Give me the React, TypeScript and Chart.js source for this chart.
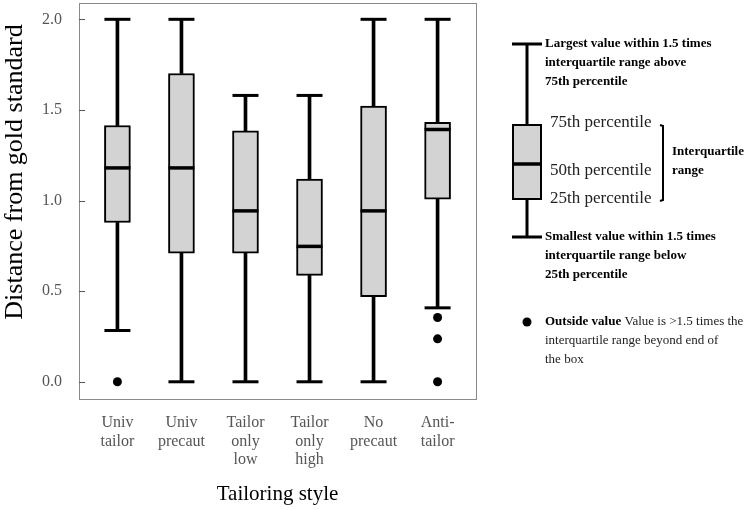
import React, { useEffect, useRef } from "react";
import { Chart, registerables } from "chart.js";

Chart.register(...registerables);

// ---------- data ----------
const CATEGORIES: string[][] = [
  ["Univ", "tailor"],
  ["Univ", "precaut"],
  ["Tailor", "only", "low"],
  ["Tailor", "only", "high"],
  ["No", "precaut"],
  ["Anti-", "tailor"],
];
const WHISKER_LOW = [0.283, 0.0, 0.0, 0.0, 0.0, 0.408];
const Q1 = [0.879, 0.71, 0.71, 0.587, 0.469, 1.007];
const MEDIAN = [1.18, 1.18, 0.943, 0.747, 0.943, 1.392];
const Q3 = [1.414, 1.701, 1.385, 1.118, 1.521, 1.431];
const WHISKER_HIGH = [2.0, 2.0, 1.58, 1.58, 2.0, 2.0];
const OUTLIERS: number[][] = [[0.0], [], [], [], [], [0.355, 0.237, 0.0]];
const Y_TICKS = [0.0, 0.5, 1.0, 1.5, 2.0];
const X_TITLE = "Tailoring style";
const Y_TITLE = "Distance from gold standard";

const SERIF = "'Liberation Serif', 'Times New Roman', serif";

const framePlugin = {
  id: "frame",
  afterDraw(chart: any) {
    const { ctx, chartArea, scales } = chart;
    ctx.save();
    ctx.strokeStyle = "#8a8a8a";
    ctx.lineWidth = 1;
    ctx.strokeRect(
      Math.round(chartArea.left) + 0.5,
      Math.round(chartArea.top) + 0.5,
      Math.round(chartArea.right - chartArea.left),
      Math.round(chartArea.bottom - chartArea.top)
    );
    // inside tick marks on y axis
    ctx.strokeStyle = "#555";
    for (const v of Y_TICKS) {
      const y = Math.round(scales.y.getPixelForValue(v)) + 0.5;
      ctx.beginPath();
      ctx.moveTo(chartArea.left, y);
      ctx.lineTo(chartArea.left + 6, y);
      ctx.stroke();
    }
    // y axis title
    ctx.translate(15, 172);
    ctx.rotate(-Math.PI / 2);
    ctx.textAlign = "center";
    ctx.textBaseline = "middle";
    ctx.fillStyle = "#000";
    ctx.font = `26px ${SERIF}`;
    ctx.fillText(Y_TITLE, 0, 0);
    ctx.restore();
  },
};

const keyPlugin = {
  id: "boxKey",
  afterDraw(chart: any) {
    const ctx: CanvasRenderingContext2D = chart.ctx;
    ctx.save();
    const cx = 527;
    const bl = 512;
    const br = 542;
    ctx.strokeStyle = "#000";
    ctx.lineCap = "butt";
    // whisker
    ctx.lineWidth = 3;
    ctx.beginPath();
    ctx.moveTo(cx, 44);
    ctx.lineTo(cx, 237);
    ctx.stroke();
    ctx.beginPath();
    ctx.moveTo(bl, 44);
    ctx.lineTo(br, 44);
    ctx.moveTo(bl, 237);
    ctx.lineTo(br, 237);
    ctx.stroke();
    // box
    ctx.fillStyle = "#d3d3d3";
    ctx.fillRect(bl, 124, br - bl, 76);
    ctx.lineWidth = 2;
    ctx.strokeRect(bl + 1, 125, br - bl - 2, 74);
    ctx.lineWidth = 3.5;
    ctx.beginPath();
    ctx.moveTo(bl, 164);
    ctx.lineTo(br, 164);
    ctx.stroke();
    // bracket
    ctx.lineWidth = 2;
    ctx.beginPath();
    ctx.moveTo(660, 125);
    ctx.lineTo(663, 126);
    ctx.lineTo(663, 200);
    ctx.lineTo(660, 201);
    ctx.stroke();
    // outlier dot
    ctx.fillStyle = "#000";
    ctx.beginPath();
    ctx.arc(cx, 322, 4.5, 0, Math.PI * 2);
    ctx.fill();

    ctx.textBaseline = "middle";
    ctx.textAlign = "left";
    ctx.fillStyle = "#000";
    const bold = `bold 13px ${SERIF}`;
    const norm13 = `13px ${SERIF}`;
    const big = `17px ${SERIF}`;
    ctx.font = bold;
    ctx.fillText("Largest value within 1.5 times", 545, 44);
    ctx.fillText("interquartile range above", 545, 63);
    ctx.fillText("75th percentile", 545, 82);
    ctx.fillText("Smallest value within 1.5 times", 545, 237);
    ctx.fillText("interquartile range below", 545, 256);
    ctx.fillText("25th percentile", 545, 275);
    ctx.fillText("Interquartile", 672, 152);
    ctx.fillText("range", 672, 171);
    ctx.font = big;
    ctx.fillStyle = "#222";
    ctx.fillText("75th percentile", 550, 123);
    ctx.fillText("50th percentile", 550, 171);
    ctx.fillText("25th percentile", 550, 199);
    ctx.fillStyle = "#000";
    ctx.font = bold;
    const ov = "Outside value ";
    ctx.fillText(ov, 545, 322);
    const w = ctx.measureText(ov).width;
    ctx.font = norm13;
    ctx.fillStyle = "#222";
    ctx.fillText("Value is >1.5 times the", 545 + w, 322);
    ctx.fillText("interquartile range beyond end of", 545, 341);
    ctx.fillText("the box", 545, 360);
    ctx.restore();
  },
};

export default function App() {
  const ref = useRef<HTMLCanvasElement>(null);

  useEffect(() => {
    const xs = CATEGORIES.map((_, i) => i + 1);
    const outlierPts: { x: number; y: number }[] = [];
    OUTLIERS.forEach((arr, i) => arr.forEach((v) => outlierPts.push({ x: i + 1, y: v })));

    const chart = new Chart(ref.current as HTMLCanvasElement, {
      type: "bar",
      data: {
        datasets: [
          {
            type: "bar",
            label: "lower whisker",
            data: xs.map((x, i) => ({ x, y: [WHISKER_LOW[i], Q1[i]] })),
            backgroundColor: "#000",
            borderWidth: 0,
            barThickness: 3,
            grouped: false,
            order: 6,
          } as any,
          {
            type: "bar",
            label: "upper whisker",
            data: xs.map((x, i) => ({ x, y: [Q3[i], WHISKER_HIGH[i]] })),
            backgroundColor: "#000",
            borderWidth: 0,
            barThickness: 3,
            grouped: false,
            order: 5,
          } as any,
          {
            type: "bar",
            label: "box",
            data: xs.map((x, i) => ({ x, y: [Q1[i], Q3[i]] })),
            backgroundColor: "#d3d3d3",
            borderColor: "#000",
            borderWidth: 2,
            borderSkipped: false,
            barThickness: 26,
            grouped: false,
            order: 4,
          } as any,
          {
            type: "scatter",
            label: "caps",
            data: [
              ...xs.map((x, i) => ({ x, y: WHISKER_HIGH[i] })),
              ...xs.map((x, i) => ({ x, y: WHISKER_LOW[i] })),
            ],
            pointStyle: "line",
            pointRadius: 13,
            borderWidth: 3,
            borderColor: "#000",
            backgroundColor: "#000",
            order: 3,
          } as any,
          {
            type: "scatter",
            label: "median",
            data: xs.map((x, i) => ({ x, y: MEDIAN[i] })),
            pointStyle: "line",
            pointRadius: 13,
            borderWidth: 3.5,
            borderColor: "#000",
            backgroundColor: "#000",
            order: 1,
          } as any,
          {
            type: "scatter",
            label: "outliers",
            data: outlierPts,
            pointStyle: "circle",
            pointRadius: 4.5,
            borderWidth: 0,
            backgroundColor: "#000",
            order: 2,
          } as any,
        ],
      },
      options: {
        responsive: false,
        animation: false,
        devicePixelRatio: 1,
        layout: { autoPadding: false, padding: { left: 0, top: 3, right: 274, bottom: 0 } },
        plugins: { legend: { display: false }, tooltip: { enabled: false } },
        scales: {
          x: {
            type: "linear",
            min: 0.4,
            max: 6.6,
            offset: false,
            grid: { display: false, drawTicks: false },
            border: { display: false },
            afterBuildTicks: (s: any) => {
              s.ticks = xs.map((v) => ({ value: v }));
            },
            afterFit: (s: any) => {
              s.height = 111;
              s.paddingLeft = 0;
              s.paddingRight = 0;
              s.paddingTop = 0;
              s.paddingBottom = 0;
            },
            ticks: {
              autoSkip: false,
              maxRotation: 0,
              padding: 15,
              color: "#555",
              font: { family: SERIF, size: 16, lineHeight: 1.15 },
              callback: (v: any) => CATEGORIES[Math.round(Number(v)) - 1] || "",
            },
            title: {
              display: true,
              text: X_TITLE,
              color: "#000",
              font: { family: SERIF, size: 21, lineHeight: 1.2 },
              padding: { top: 0, bottom: 3 },
            },
          } as any,
          y: {
            type: "linear",
            min: -0.095,
            max: 2.09,
            grid: { display: false, drawTicks: false },
            border: { display: false },
            afterBuildTicks: (s: any) => {
              s.ticks = Y_TICKS.map((v) => ({ value: v }));
            },
            afterFit: (s: any) => {
              s.width = 79;
              s.paddingLeft = 0;
              s.paddingRight = 0;
              s.paddingTop = 0;
              s.paddingBottom = 0;
            },
            ticks: {
              padding: 17,
              color: "#555",
              font: { family: SERIF, size: 16 },
              callback: (v: any) => Number(v).toFixed(1),
            },
          } as any,
        },
      },
      plugins: [framePlugin, keyPlugin],
    });
    return () => chart.destroy();
  }, []);

  return (
    <div style={{ position: "fixed", left: 0, top: 0, width: 750, height: 510, background: "#fff" }}>
      <canvas ref={ref} width={750} height={510} style={{ width: 750, height: 510, display: "block" }} />
    </div>
  );
}
